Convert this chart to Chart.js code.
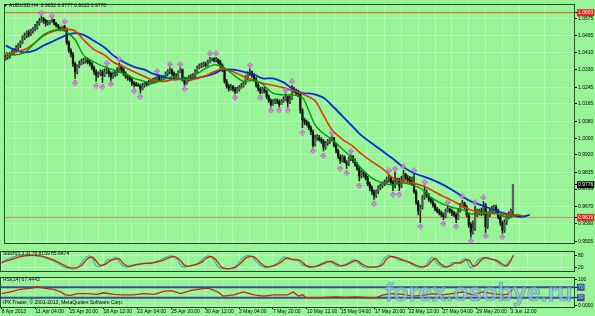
<!DOCTYPE html>
<html>
<head>
<meta charset="utf-8">
<title>AUDUSD H4</title>
<script src="https://cdn.jsdelivr.net/npm/chart.js@4.4.1/dist/chart.umd.min.js"></script>
<style>
  html, body { margin: 0; padding: 0; }
  body { width: 595px; height: 316px; background: #97f497; position: relative; overflow: hidden; font-family: "Liberation Sans", Arial, sans-serif; }
  canvas { position: absolute; left: 0; }
  .txt { position: absolute; font-size: 5px; line-height: 5px; color: #000; white-space: nowrap; }
  #wm { position: absolute; left: 385px; top: 280px; font: bold 25px/25px "Liberation Sans", Arial, sans-serif;
        color: rgba(152,186,230,0.68); -webkit-text-stroke: 0.65px rgba(75,105,170,0.62); white-space: nowrap; }
</style>
</head>
<body>
<canvas id="priceChart" width="595" height="248" style="top:0"></canvas>
<canvas id="stochChart" width="595" height="27" style="top:248px"></canvas>
<canvas id="rsiChart" width="595" height="42" style="top:274px"></canvas>
<div class="txt" style="left:3px;top:3px">▼ AUDUSD,H4&nbsp; 0.9652 0.9777 0.9633 0.9776</div>
<div class="txt" style="left:3px;top:251px">Stoch(5,3,3) 76.8159 85.6474</div>
<div class="txt" style="left:3px;top:277px">RSI(14) 67.4443</div>
<div class="txt" style="left:3px;top:300px">IPX Trader, © 2001-2013, MetaQuotes Software Corp.</div>
<div id="wm">forex.osobye.ru</div>
<script>
// H4 bars, index 0 = 8 Apr 2013 12:00
const opens = [
  1.0380,1.0389,1.0394,1.0403,1.0412,1.0422,1.0436,1.0445,1.0459,1.0482,
  1.0492,1.0505,1.0501,1.0515,1.0524,1.0533,1.0552,1.0561,1.0575,1.0566,
  1.0552,1.0557,1.0566,1.0571,1.0552,1.0543,1.0533,1.0529,1.0538,1.0524,
  1.0459,1.0422,1.0403,1.0357,1.0319,1.0347,1.0357,1.0366,1.0371,1.0375,
  1.0366,1.0357,1.0338,1.0319,1.0301,1.0310,1.0319,1.0301,1.0319,1.0324,
  1.0310,1.0292,1.0306,1.0310,1.0319,1.0347,1.0329,1.0310,1.0296,1.0292,
  1.0282,1.0264,1.0259,1.0254,1.0250,1.0236,1.0254,1.0264,1.0259,1.0264,
  1.0273,1.0278,1.0282,1.0296,1.0282,1.0287,1.0296,1.0310,1.0319,1.0329,
  1.0310,1.0292,1.0296,1.0319,1.0329,1.0282,1.0264,1.0282,1.0292,1.0287,
  1.0301,1.0319,1.0338,1.0347,1.0352,1.0357,1.0352,1.0366,1.0380,1.0385,
  1.0375,1.0380,1.0366,1.0347,1.0329,1.0273,1.0250,1.0236,1.0245,1.0236,
  1.0222,1.0236,1.0245,1.0250,1.0264,1.0292,1.0310,1.0319,1.0301,1.0282,
  1.0254,1.0236,1.0217,1.0236,1.0226,1.0199,1.0180,1.0161,1.0171,1.0180,
  1.0175,1.0161,1.0175,1.0185,1.0199,1.0171,1.0189,1.0236,1.0226,1.0217,
  1.0213,1.0133,1.0087,1.0078,1.0068,1.0050,1.0031,0.9966,1.0003,1.0003,
  0.9994,0.9985,0.9957,0.9975,0.9985,0.9994,1.0003,0.9966,0.9938,0.9910,
  0.9892,0.9910,0.9882,0.9873,0.9901,0.9915,0.9892,0.9873,0.9854,0.9817,
  0.9836,0.9827,0.9808,0.9780,0.9761,0.9743,0.9724,0.9743,0.9761,0.9771,
  0.9780,0.9789,0.9799,0.9808,0.9789,0.9771,0.9789,0.9799,0.9771,0.9799,
  0.9827,0.9808,0.9799,0.9789,0.9780,0.9743,0.9692,0.9650,0.9668,0.9715,
  0.9738,0.9724,0.9706,0.9696,0.9678,0.9659,0.9650,0.9641,0.9631,0.9622,
  0.9650,0.9659,0.9650,0.9641,0.9631,0.9612,0.9650,0.9678,0.9687,0.9668,
  0.9631,0.9585,0.9547,0.9566,0.9631,0.9641,0.9650,0.9641,0.9678,0.9575,
  0.9631,0.9650,0.9659,0.9668,0.9650,0.9622,0.9594,0.9557,0.9594,0.9622,
  0.9631,0.9652
];
const highs = [
  1.0399,1.0408,1.0412,1.0422,1.0431,1.0445,1.0454,1.0468,1.0492,1.0505,
  1.0515,1.0519,1.0524,1.0533,1.0547,1.0561,1.0575,1.0585,1.0580,1.0571,
  1.0566,1.0566,1.0575,1.0571,1.0557,1.0547,1.0533,1.0538,1.0543,1.0529,
  1.0468,1.0431,1.0412,1.0366,1.0352,1.0371,1.0380,1.0385,1.0389,1.0385,
  1.0375,1.0366,1.0347,1.0329,1.0319,1.0329,1.0329,1.0333,1.0343,1.0333,
  1.0319,1.0319,1.0324,1.0338,1.0361,1.0352,1.0338,1.0319,1.0306,1.0301,
  1.0292,1.0273,1.0268,1.0264,1.0259,1.0264,1.0273,1.0273,1.0278,1.0282,
  1.0287,1.0292,1.0306,1.0301,1.0296,1.0301,1.0319,1.0329,1.0338,1.0333,
  1.0319,1.0310,1.0324,1.0338,1.0333,1.0292,1.0292,1.0301,1.0306,1.0310,
  1.0329,1.0347,1.0357,1.0361,1.0366,1.0366,1.0375,1.0389,1.0385,1.0385,
  1.0389,1.0380,1.0375,1.0357,1.0338,1.0282,1.0259,1.0259,1.0254,1.0245,
  1.0245,1.0254,1.0264,1.0273,1.0301,1.0319,1.0333,1.0324,1.0310,1.0292,
  1.0264,1.0245,1.0245,1.0245,1.0231,1.0208,1.0189,1.0185,1.0189,1.0189,
  1.0185,1.0185,1.0199,1.0213,1.0203,1.0203,1.0254,1.0245,1.0236,1.0231,
  1.0222,1.0143,1.0096,1.0087,1.0078,1.0059,1.0040,1.0013,1.0017,1.0013,
  1.0003,0.9994,0.9985,0.9994,1.0003,1.0008,1.0003,0.9975,0.9947,0.9920,
  0.9920,0.9915,0.9892,0.9910,0.9920,0.9915,0.9901,0.9882,0.9864,0.9845,
  0.9845,0.9836,0.9817,0.9789,0.9771,0.9752,0.9752,0.9771,0.9780,0.9789,
  0.9799,0.9813,0.9827,0.9817,0.9799,0.9836,0.9808,0.9808,0.9817,0.9845,
  0.9831,0.9822,0.9817,0.9813,0.9827,0.9752,0.9701,0.9678,0.9724,0.9771,
  0.9752,0.9734,0.9715,0.9706,0.9687,0.9668,0.9659,0.9650,0.9641,0.9659,
  0.9673,0.9664,0.9659,0.9650,0.9641,0.9659,0.9687,0.9701,0.9692,0.9678,
  0.9641,0.9594,0.9603,0.9673,0.9659,0.9659,0.9664,0.9696,0.9687,0.9645,
  0.9664,0.9673,0.9678,0.9678,0.9659,0.9631,0.9603,0.9608,0.9631,0.9645,
  0.9659,0.9777
];
const lows = [
  1.0375,1.0380,1.0385,1.0399,1.0403,1.0412,1.0426,1.0436,1.0454,1.0473,
  1.0482,1.0487,1.0492,1.0505,1.0515,1.0524,1.0543,1.0557,1.0552,1.0538,
  1.0543,1.0547,1.0557,1.0543,1.0533,1.0519,1.0515,1.0524,1.0515,1.0450,
  1.0412,1.0389,1.0343,1.0287,1.0310,1.0338,1.0352,1.0357,1.0361,1.0357,
  1.0347,1.0329,1.0306,1.0273,1.0292,1.0301,1.0268,1.0296,1.0310,1.0296,
  1.0278,1.0287,1.0296,1.0301,1.0315,1.0319,1.0301,1.0287,1.0278,1.0273,
  1.0254,1.0245,1.0250,1.0250,1.0217,1.0231,1.0245,1.0250,1.0254,1.0259,
  1.0264,1.0268,1.0273,1.0273,1.0273,1.0282,1.0292,1.0301,1.0310,1.0301,
  1.0282,1.0282,1.0292,1.0315,1.0273,1.0254,1.0259,1.0273,1.0278,1.0282,
  1.0296,1.0315,1.0333,1.0338,1.0343,1.0343,1.0347,1.0361,1.0371,1.0366,
  1.0366,1.0357,1.0338,1.0319,1.0264,1.0240,1.0226,1.0231,1.0226,1.0213,
  1.0217,1.0226,1.0240,1.0245,1.0259,1.0282,1.0301,1.0292,1.0273,1.0245,
  1.0226,1.0213,1.0217,1.0217,1.0189,1.0171,1.0152,1.0157,1.0166,1.0166,
  1.0152,1.0161,1.0171,1.0180,1.0152,1.0166,1.0185,1.0217,1.0208,1.0199,
  1.0120,1.0050,1.0064,1.0059,1.0040,1.0017,0.9957,0.9961,0.9989,0.9985,
  0.9975,0.9938,0.9947,0.9966,0.9975,0.9985,0.9957,0.9929,0.9901,0.9878,
  0.9887,0.9882,0.9854,0.9868,0.9892,0.9882,0.9864,0.9845,0.9794,0.9808,
  0.9813,0.9799,0.9771,0.9748,0.9729,0.9706,0.9715,0.9734,0.9752,0.9761,
  0.9771,0.9780,0.9789,0.9780,0.9748,0.9761,0.9780,0.9748,0.9761,0.9789,
  0.9799,0.9789,0.9780,0.9771,0.9734,0.9682,0.9631,0.9594,0.9659,0.9706,
  0.9715,0.9696,0.9687,0.9668,0.9650,0.9641,0.9631,0.9622,0.9608,0.9617,
  0.9645,0.9641,0.9627,0.9622,0.9594,0.9608,0.9645,0.9668,0.9659,0.9622,
  0.9571,0.9524,0.9538,0.9557,0.9622,0.9631,0.9627,0.9631,0.9547,0.9566,
  0.9622,0.9641,0.9650,0.9641,0.9612,0.9580,0.9543,0.9547,0.9585,0.9612,
  0.9622,0.9633
];
const closes = [
  1.0389,1.0394,1.0403,1.0412,1.0422,1.0436,1.0445,1.0459,1.0482,1.0492,
  1.0505,1.0501,1.0515,1.0524,1.0533,1.0552,1.0561,1.0575,1.0566,1.0552,
  1.0557,1.0566,1.0571,1.0552,1.0543,1.0533,1.0529,1.0538,1.0524,1.0459,
  1.0422,1.0403,1.0357,1.0319,1.0347,1.0357,1.0366,1.0371,1.0375,1.0366,
  1.0357,1.0338,1.0319,1.0301,1.0310,1.0319,1.0301,1.0319,1.0324,1.0310,
  1.0292,1.0306,1.0310,1.0319,1.0347,1.0329,1.0310,1.0296,1.0292,1.0282,
  1.0264,1.0259,1.0254,1.0250,1.0236,1.0254,1.0264,1.0259,1.0264,1.0273,
  1.0278,1.0282,1.0296,1.0282,1.0287,1.0296,1.0310,1.0319,1.0329,1.0310,
  1.0292,1.0296,1.0319,1.0329,1.0282,1.0264,1.0282,1.0292,1.0287,1.0301,
  1.0319,1.0338,1.0347,1.0352,1.0357,1.0352,1.0366,1.0380,1.0385,1.0375,
  1.0380,1.0366,1.0347,1.0329,1.0273,1.0250,1.0236,1.0245,1.0236,1.0222,
  1.0236,1.0245,1.0250,1.0264,1.0292,1.0310,1.0319,1.0301,1.0282,1.0254,
  1.0236,1.0217,1.0236,1.0226,1.0199,1.0180,1.0161,1.0171,1.0180,1.0175,
  1.0161,1.0175,1.0185,1.0199,1.0171,1.0189,1.0236,1.0226,1.0217,1.0213,
  1.0133,1.0087,1.0078,1.0068,1.0050,1.0031,0.9966,1.0003,1.0003,0.9994,
  0.9985,0.9957,0.9975,0.9985,0.9994,1.0003,0.9966,0.9938,0.9910,0.9892,
  0.9910,0.9882,0.9873,0.9901,0.9915,0.9892,0.9873,0.9854,0.9817,0.9836,
  0.9827,0.9808,0.9780,0.9761,0.9743,0.9724,0.9743,0.9761,0.9771,0.9780,
  0.9789,0.9799,0.9808,0.9789,0.9771,0.9789,0.9799,0.9771,0.9799,0.9827,
  0.9808,0.9799,0.9789,0.9780,0.9743,0.9692,0.9650,0.9668,0.9715,0.9738,
  0.9724,0.9706,0.9696,0.9678,0.9659,0.9650,0.9641,0.9631,0.9622,0.9650,
  0.9659,0.9650,0.9641,0.9631,0.9612,0.9650,0.9678,0.9687,0.9668,0.9631,
  0.9585,0.9547,0.9566,0.9631,0.9641,0.9650,0.9641,0.9678,0.9575,0.9631,
  0.9650,0.9659,0.9668,0.9650,0.9622,0.9594,0.9557,0.9594,0.9622,0.9631,
  0.9652,0.9776
];

// Alligator lines [bar, price], already shifted forward
const jaw = [[0,1.0445],[4,1.0426],[9,1.0412],[14,1.0422],[18,1.0445],[23,1.0468],[28,1.0492],[33,1.0505],[37,1.0496],[42,1.0468],[47,1.0436],[51,1.0399],[56,1.0366],[61,1.0343],[66,1.0329],[70,1.0310],[75,1.0296],[80,1.0282],[84,1.0287],[89,1.0287],[94,1.0296],[99,1.0310],[103,1.0329],[108,1.0329],[113,1.0319],[118,1.0306],[122,1.0287],[127,1.0287],[132,1.0268],[136,1.0240],[141,1.0217],[146,1.0213],[151,1.0194],[155,1.0157],[160,1.0106],[165,1.0054],[169,1.0013],[174,0.9975],[179,0.9938],[184,0.9901],[188,0.9868],[193,0.9836],[198,0.9817],[202,0.9803],[207,0.9780],[212,0.9752],[217,0.9720],[221,0.9696],[226,0.9678],[231,0.9659],[235,0.9645],[240,0.9631],[245,0.9622],[249,0.9631]];
const teeth = [[0,1.0403],[4,1.0412],[9,1.0426],[14,1.0459],[18,1.0492],[23,1.0515],[28,1.0524],[33,1.0515],[37,1.0473],[42,1.0426],[47,1.0399],[51,1.0366],[56,1.0343],[61,1.0319],[66,1.0296],[70,1.0278],[75,1.0273],[80,1.0282],[84,1.0282],[89,1.0282],[94,1.0296],[99,1.0319],[103,1.0333],[108,1.0319],[113,1.0296],[118,1.0278],[122,1.0264],[127,1.0254],[133,1.0240],[140,1.0217],[143,1.0203],[147,1.0180],[151,1.0110],[155,1.0040],[160,0.9994],[165,0.9961],[169,0.9924],[174,0.9887],[179,0.9854],[184,0.9808],[188,0.9794],[193,0.9785],[198,0.9771],[202,0.9752],[207,0.9724],[212,0.9701],[217,0.9673],[221,0.9655],[227,0.9641],[234,0.9636],[239,0.9631],[243,0.9631],[246,0.9627]];
const lips = [[0,1.0412],[4,1.0399],[9,1.0412],[14,1.0459],[18,1.0496],[23,1.0519],[28,1.0515],[33,1.0473],[37,1.0399],[42,1.0366],[47,1.0343],[51,1.0329],[56,1.0310],[61,1.0287],[66,1.0273],[70,1.0264],[75,1.0282],[80,1.0296],[84,1.0282],[89,1.0296],[94,1.0329],[99,1.0352],[103,1.0343],[108,1.0306],[113,1.0273],[118,1.0278],[122,1.0259],[127,1.0217],[132,1.0208],[136,1.0208],[141,1.0194],[144,1.0133],[147,1.0064],[151,1.0022],[155,0.9994],[160,0.9947],[165,0.9901],[169,0.9854],[174,0.9808],[179,0.9785],[184,0.9775],[188,0.9785],[193,0.9775],[198,0.9752],[202,0.9715],[207,0.9687],[212,0.9668],[217,0.9655],[221,0.9636],[226,0.9641],[231,0.9645],[235,0.9631],[239,0.9617],[242,0.9627],[244,0.9631]];

// Fractal arrows [bar, price]
const fractalUp = [[17,1.0603],[22,1.0589],[28,1.0561],[48,1.0361],[54,1.0380],[72,1.0324],[78,1.0357],[83,1.0357],[97,1.0408],[100,1.0408],[116,1.0352],[133,1.0231],[136,1.0273],[155,1.0027],[164,0.9938],[182,0.9845],[185,0.9854],[189,0.9864],[194,0.9845],[199,0.9789],[210,0.9692],[217,0.9720],[223,0.9692],[227,0.9715]];
const fractalDown = [[33,1.0264],[43,1.0250],[46,1.0245],[50,1.0259],[61,1.0226],[64,1.0199],[85,1.0236],[109,1.0194],[121,1.0194],[126,1.0133],[130,1.0133],[134,1.0133],[141,1.0027],[146,0.9938],[151,0.9915],[159,0.9854],[162,0.9831],[168,0.9771],[175,0.9682],[184,0.9729],[187,0.9729],[197,0.9575],[208,0.9589],[214,0.9575],[221,0.9506],[228,0.9529],[236,0.9524]];

// horizontal lines drawn on the chart
const levelLines = [1.0603, 0.9619];

// Stochastic %K / %D and RSI(14) [bar, value]
const stochMain = [[0,40],[3,64],[7.5,80],[12,84],[17,80],[22,64],[26,44],[29,24],[32.5,12],[36,20],[39,64],[41,80],[43,60],[45,24],[48,32],[50,60],[52,60],[54,72],[56,40],[58.5,20],[62,32],[66,40],[69,40],[74,52],[76,64],[80,80],[83,60],[85,24],[88,24],[92.5,40],[95,64],[97.5,80],[100,60],[102,24],[104,12],[108,12],[111,32],[114,72],[117.5,80],[121,40],[123.5,20],[127,24],[130,40],[133,72],[136,60],[139.5,60],[142,32],[145,20],[148,24],[151,40],[154,52],[156.5,40],[159,24],[164,44],[166,60],[168.5,40],[171,20],[175,20],[178,24],[180,60],[182,80],[185,72],[187,60],[190.5,52],[194,32],[196.5,20],[199,20],[201.5,52],[203,72],[205.5,40],[208,20],[210.5,24],[212.5,44],[215,40],[217.5,60],[219,64],[221,20],[222.5,24],[225,60],[227.5,72],[229.5,64],[232,60],[234.5,40],[237,24],[239,44],[241.5,80]];
const stochSignal = [[0,46],[4,58],[9,76],[13.5,82],[18.5,80],[23.5,62],[27.5,42],[30.5,24],[34,15],[37.5,28],[40.5,64],[42.5,74],[44.5,54],[46.5,30],[49,36],[51.5,56],[53.5,62],[55.5,64],[57.5,38],[60,24],[63.5,32],[67.5,40],[71,42],[75.5,54],[78,66],[81.5,76],[84.5,54],[86.5,28],[89.5,28],[94,44],[96.5,66],[99,76],[101.5,54],[103.5,24],[105.5,14],[109.5,16],[112.5,38],[115.5,70],[119,74],[122.5,38],[125,22],[128.5,28],[131.5,44],[134.5,68],[137.5,60],[141,54],[143.5,30],[146.5,22],[149.5,28],[152.5,42],[155.5,50],[158,36],[161,28],[165.5,48],[167.5,56],[170,36],[173,22],[176.5,22],[179.5,32],[181.5,62],[183.5,76],[186.5,70],[189,58],[192,48],[195.5,30],[198,22],[200.5,26],[203,54],[204.5,66],[207,38],[209.5,22],[212,28],[214,44],[216.5,42],[219,58],[220.5,56],[222.5,26],[224,30],[226.5,60],[229,70],[231,62],[233.5,56],[236,38],[238.5,28],[241.5,84]];
const rsi = [[0,46],[4,52],[9,62],[14,67],[17,72],[20,67],[24.5,62],[28,52],[30,41],[32.5,39],[36,46],[40.5,46],[45,43],[48,49],[53,43],[57.5,41],[62,41],[67,46],[72,43],[76.5,54],[80,57],[84.5,46],[89,57],[94,64],[97.5,67],[102,52],[104.5,36],[109.5,41],[114,52],[119,41],[123.5,36],[128.5,41],[135,41],[137.5,52],[140,36],[142,41],[143.5,31],[148,29],[153,31],[157.5,33],[162,31],[167,33],[171.5,31],[176.5,29],[180,41],[184.5,46],[189,43],[194,36],[198.5,39],[203.5,46],[208,41],[212.5,46],[217.5,52],[222,41],[227,52],[231.5,46],[236,41],[239,44],[241,62]];
const rsiLevels = [70, 30];

// axes
const dateLabels = ['8 Apr 2013','11 Apr 04:00','15 Apr 20:00','18 Apr 12:00','23 Apr 04:00','25 Apr 20:00','30 Apr 12:00','3 May 04:00','7 May 20:00','10 May 12:00','15 May 04:00','17 May 20:00','22 May 12:00','27 May 04:00','29 May 20:00','3 Jun 12:00'];
const gridBars = [0,8,16,24,32,40,48,56,64,72,80,88,96,104,112,120,128,136,144,152,160,168,176,184,192,200,208,216,224,232,240,248,256,264];
const priceTicks = [1.0575,1.0495,1.0410,1.0330,1.0245,1.0165,1.0080,1.0000,0.9920,0.9835,0.9755,0.9670,0.9590,0.9505];
const markedPrices = { '1.0603': '#e3261b', '0.9619': '#e3261b', '0.9776': '#000000' };
const stochTicks = [80, 20];
const rsiTicks = [100, 70, 30, 0];

const bgGrid = 'rgba(255,255,255,0.32)';
const tickFont = { family: 'Liberation Sans', size: 5 };

const panelFrame = {
  id: 'panelFrame',
  afterDraw(chart) {
    const { ctx, chartArea: a } = chart;
    ctx.save();
    ctx.strokeStyle = '#2c4a2c';
    ctx.lineWidth = 1;
    ctx.strokeRect(a.left - 0.5, a.top - 0.5, a.right - a.left + 1, a.bottom - a.top + 1);
    ctx.restore();
  }
};

function fractalIcon(up) {
  const c = document.createElement('canvas');
  c.width = 6; c.height = 6;
  const g = c.getContext('2d');
  if (!up) { g.translate(0, 6); g.scale(1, -1); }
  g.fillStyle = '#e39cee';
  g.strokeStyle = '#b548c4';
  g.lineWidth = 0.8;
  g.beginPath();
  g.moveTo(3, 0.5); g.lineTo(5.6, 3.4); g.lineTo(3.8, 3.4); g.lineTo(3.8, 5.5);
  g.lineTo(2.2, 5.5); g.lineTo(2.2, 3.4); g.lineTo(0.4, 3.4); g.closePath();
  g.fill(); g.stroke();
  return c;
}

function xAxis(withLabels) {
  return {
    type: 'linear', min: -0.3, max: 270, offset: false,
    afterBuildTicks: s => { s.ticks = gridBars.map(v => ({ value: v })); },
    grid: { color: bgGrid, drawTicks: withLabels, tickLength: 2,
            tickColor: ctx => (ctx.tick && ctx.tick.value % 16 === 0) ? '#000' : 'rgba(0,0,0,0)' },
    border: { display: false },
    ticks: { display: withLabels, autoSkip: false, maxRotation: 0, align: 'start', padding: 0,
             font: tickFont, color: '#000',
             callback: v => v % 16 === 0 ? dateLabels[v / 16] : '' },
    afterFit: s => { s.height = withLabels ? 9 : 0; }
  };
}

function yAxis(min, max, values, boxes) {
  return {
    position: 'right', min: min, max: max,
    afterBuildTicks: s => { s.ticks = values.map(v => ({ value: v })); },
    afterFit: s => { s.width = 21; },
    border: { display: false },
    grid: { color: ctx => boxes(ctx.tick) ? 'rgba(0,0,0,0)' : bgGrid, tickLength: 3, tickColor: '#000' },
    ticks: {
      autoSkip: false, padding: 1, font: tickFont,
      color: ctx => boxes(ctx.tick) ? boxes(ctx.tick).text : '#000',
      showLabelBackdrop: ctx => !!boxes(ctx.tick),
      backdropColor: ctx => boxes(ctx.tick) ? boxes(ctx.tick).bg : 'rgba(0,0,0,0)',
      backdropPadding: { left: 1, right: 1, top: 0.5, bottom: 0.5 },
      callback: v => v < 2 ? Number(v).toFixed(4) : String(v)
    }
  };
}

const pairs = arr => arr.map(p => ({ x: p[0], y: p[1] }));
const flat = (v, color, w) => ({
  type: 'line', data: [{ x: -1, y: v }, { x: 271, y: v }],
  borderColor: color, borderWidth: w, pointRadius: 0
});

// ---- price panel ----
const allPrices = priceTicks.concat(Object.keys(markedPrices).map(Number));
const priceBox = t => {
  if (!t) return null;
  const c = markedPrices[Number(t.value).toFixed(4)];
  return c ? { bg: c, text: '#fff' } : null;
};

new Chart(document.getElementById('priceChart'), {
  type: 'line',
  data: {
    datasets: [
      { type: 'line', data: pairs(fractalUp), showLine: false, pointStyle: fractalIcon(true), pointRadius: 3, order: 0 },
      { type: 'line', data: pairs(fractalDown), showLine: false, pointStyle: fractalIcon(false), pointRadius: 3, order: 0 },
      { type: 'line', data: pairs(lips), borderColor: '#009a00', borderWidth: 1.4, pointRadius: 0, tension: 0.3, order: 1 },
      { type: 'line', data: pairs(teeth), borderColor: '#e03a00', borderWidth: 1.6, pointRadius: 0, tension: 0.3, order: 2 },
      { type: 'line', data: pairs(jaw), borderColor: '#0a2ad8', borderWidth: 1.8, pointRadius: 0, tension: 0.3, order: 3 },
      { type: 'bar', data: opens.map((o, i) => ({ x: i, y: [o, closes[i]] })),
        backgroundColor: opens.map((o, i) => closes[i] >= o ? '#56625a' : '#0c120c'),
        barThickness: 1.6, grouped: false, minBarLength: 1, order: 4 },
      { type: 'bar', data: opens.map((o, i) => ({ x: i, y: [lows[i], highs[i]] })),
        backgroundColor: '#1a241a', barThickness: 0.9, grouped: false, order: 5 },
      Object.assign(flat(levelLines[0], '#e05a2a', 1), { order: 6 }),
      Object.assign(flat(levelLines[1], '#c98f55', 1), { order: 6 })
    ]
  },
  options: {
    animation: false, responsive: false,
    layout: { padding: { top: 1, bottom: 1, left: 1, right: 0 } },
    plugins: { legend: { display: false }, tooltip: { enabled: false } },
    scales: {
      x: xAxis(false),
      y: yAxis(0.9496, 1.0640, allPrices, priceBox)
    }
  },
  plugins: [panelFrame]
});

// ---- stochastic panel ----
new Chart(document.getElementById('stochChart'), {
  type: 'line',
  data: {
    datasets: [
      { data: pairs(stochSignal), borderColor: '#cc2200', borderWidth: 1.3, pointRadius: 0, tension: 0.4, order: 0 },
      { data: pairs(stochMain), borderColor: '#3fb7b7', borderWidth: 1.3, pointRadius: 0, tension: 0.4, order: 1 }
    ]
  },
  options: {
    animation: false, responsive: false,
    layout: { padding: { top: 1, bottom: 2, left: 1, right: 0 } },
    plugins: { legend: { display: false }, tooltip: { enabled: false } },
    scales: { x: xAxis(false), y: yAxis(0, 100, stochTicks, () => null) }
  },
  plugins: [panelFrame]
});

// ---- RSI panel ----
const rsiBox = t => (t && rsiLevels.includes(t.value)) ? { bg: '#3b4b9b', text: '#d6defc' } : null;
new Chart(document.getElementById('rsiChart'), {
  type: 'line',
  data: {
    datasets: [
      { data: pairs(rsi), borderColor: '#cc2200', borderWidth: 1.3, pointRadius: 0, tension: 0, order: 0 },
      Object.assign(flat(rsiLevels[0], '#3b4b9b', 2), { order: 1 }),
      Object.assign(flat(rsiLevels[1], '#3b4b9b', 2), { order: 1 })
    ]
  },
  options: {
    animation: false, responsive: false,
    layout: { padding: { top: 1, bottom: 0, left: 1, right: 0 } },
    plugins: { legend: { display: false }, tooltip: { enabled: false } },
    scales: { x: xAxis(true), y: yAxis(-6, 106, rsiTicks, rsiBox) }
  },
  plugins: [panelFrame]
});
</script>
</body>
</html>
